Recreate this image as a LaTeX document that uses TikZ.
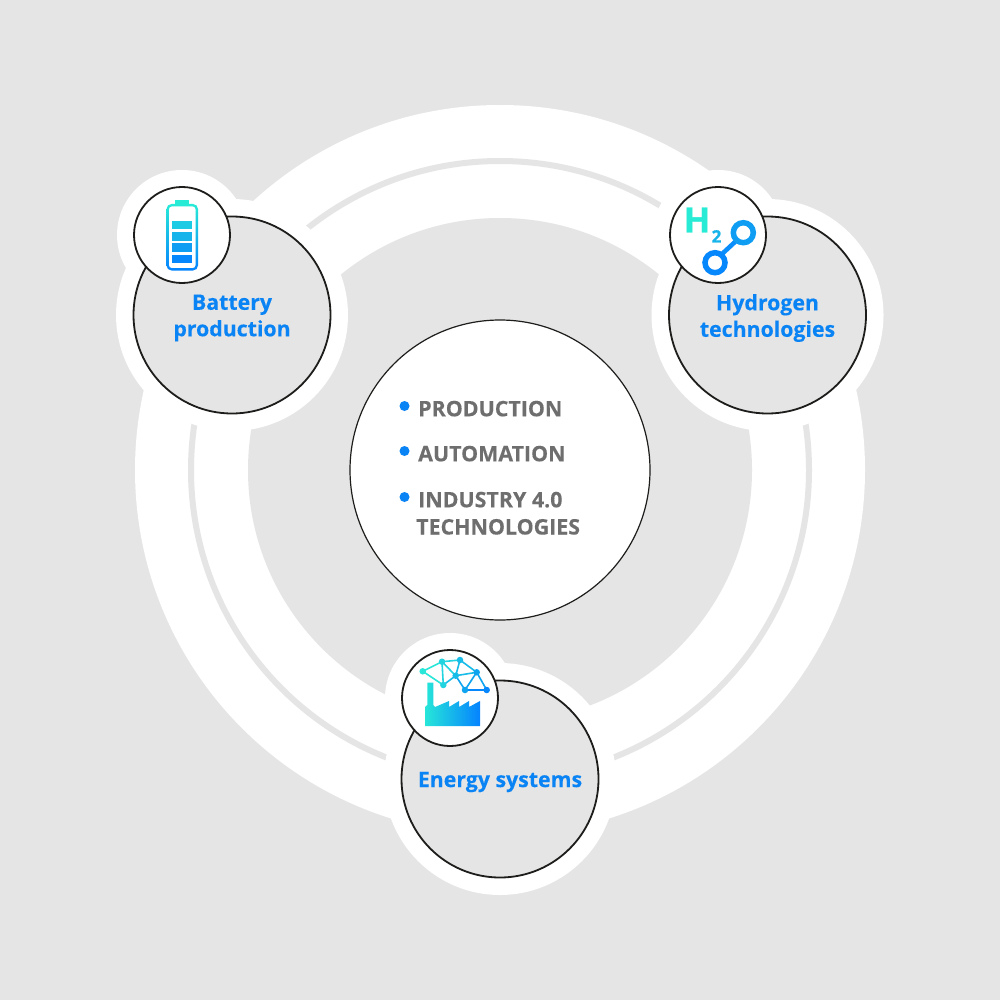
\documentclass[tikz,border=0pt]{standalone}
\usepackage{fontspec}
\setmainfont{Open Sans}
\definecolor{bg}{HTML}{E5E5E5}
\definecolor{ringgray}{HTML}{E5E5E5}
\definecolor{ink}{HTML}{1D1D1B}
\definecolor{azure}{HTML}{0A84F5}
\definecolor{slate}{HTML}{6E6E6E}
\definecolor{turq}{HTML}{28EBD6}
\definecolor{blu}{HTML}{0583FF}
\tikzset{
  halo/.style={circle,fill=white,draw=none,inner sep=0pt,minimum size=#1},
  topic/.style={circle,fill=bg,draw=ink,line width=1.8pt,inner sep=0pt,minimum size=197pt},
  topiclabel/.style={inner sep=0pt,text=azure,align=center,font=\fontsize{21.3}{26.5}\selectfont\bfseries\addfontfeature{FakeBold=0.2}},
  badge/.style={circle,fill=white,draw=ink,line width=1.8pt,inner sep=0pt,minimum size=96pt},
  item/.style={anchor=base west,inner sep=0pt,text=slate,font=\fontsize{21.4}{27}\selectfont\bfseries\addfontfeature{FakeBold=0.2}},
  dot/.style={circle,fill=#1,draw=none,inner sep=0pt,minimum size=6.5pt},
  link/.style={line width=1.6pt},
}
\begin{document}
\begin{tikzpicture}[x=1pt,y=-1pt]
\useasboundingbox (0,0) rectangle (1000,1000);
\fill[bg] (0,0) rectangle (1000,1000);
% rings
\fill[white] (500,470) circle (365);
\draw[ringgray,line width=6pt] (500,470) circle (309);
\fill[bg] (500,470) circle (252);
% halos
\node[halo=232pt] at (232,315) {};
\node[halo=130pt] at (182,235) {};
\node[halo=232pt] at (767.5,315) {};
\node[halo=130pt] at (718,235) {};
\node[halo=232pt] at (500,779) {};
\node[halo=130pt] at (450,698) {};
% centre
\node[circle,fill=white,draw=ink,line width=1.2pt,inner sep=0pt,minimum size=300pt] (core) at (500,470) {};
\fill[azure] (404.5,406) circle (5);
\fill[azure] (404.5,451) circle (5);
\fill[azure] (404.5,497) circle (5);
\node[item] (i1) at (418,416.3) {PRODUCTION};
\node[item] (i2) at (418,461.3) {AUTOMATION};
\node[item] (i3) at (418,507.3) {INDUSTRY 4.0};
\node[item] (i4) at (416,534.5) {TECHNOLOGIES};
% topics
\node[topic] (bat) at (232,315) {};
\node[topic] (hyd) at (767.5,315) {};
\node[topic] (eng) at (500,779) {};
\node[topiclabel] (batl) at (232,318) {Battery\\production};
\node[topiclabel] (hydl) at (767.5,318) {Hydrogen\\technologies};
\node[topiclabel] (engl) at (500,782) {Energy systems};
% badges
\node[badge] (bb) at (182,235) {};
\node[badge] (hb) at (718,235) {};
\node[badge] (eb) at (450,698) {};
% battery icon
\fill[turq] (175,200) rectangle (189,205.5);
\shade[top color=turq,bottom color=blu,even odd rule]
  (166.5,209) arc[start angle=180,end angle=270,radius=5] -- (193,204) arc[start angle=-90,end angle=0,radius=5] -- (198,265.5) arc[start angle=0,end angle=90,radius=5] -- (171.5,270.5) arc[start angle=90,end angle=180,radius=5] -- cycle
  (168.8,209.5) -- (168.8,265) arc[start angle=180,end angle=90,radius=3.2] -- (192.5,268.2) arc[start angle=90,end angle=0,radius=3.2] -- (195.7,209.5) arc[start angle=0,end angle=-90,radius=3.2] -- (172,206.3) arc[start angle=-90,end angle=-180,radius=3.2] -- cycle;
\definecolor{b1}{HTML}{1DCBE4}\definecolor{b2}{HTML}{16B4EA}\definecolor{b3}{HTML}{0E9DF2}\definecolor{b4}{HTML}{0787FC}
\fill[b1] (172.3,220.7) rectangle (192.3,229.3);
\fill[b2] (172.3,232) rectangle (192.3,240.7);
\fill[b3] (172.3,243.3) rectangle (192.3,252);
\fill[b4] (172.3,254.7) rectangle (192.3,263.3);
% hydrogen icon
\node[anchor=base,inner sep=0pt,text=turq,font=\fontsize{35}{35}\selectfont\bfseries\addfontfeature{FakeBold=1.2}] (hh) at (697,232.5) {H};
\node[anchor=base,inner sep=0pt,text=b2,font=\fontsize{17}{17}\selectfont\bfseries\addfontfeature{FakeBold=1}] (h2) at (716.5,242.5) {2};
\draw[blu!85!b1,line width=4.5pt] (722,254) -- (736,241);
\draw[b4,line width=5.5pt] (715,262.7) circle (10);
\draw[b3,line width=5.5pt] (743.3,232.7) circle (10);
% factory icon
\shade[left color=turq!85!b1,right color=blu]
  (425,726) -- (425,707) -- (427.3,705) -- (427.3,682.7) -- (433.3,682.7) -- (433.3,705) -- (435,707)
  -- (449,701) -- (449,707) -- (459,701) -- (459,707) -- (469,701) -- (469,707) -- (480,701) -- (480,726) -- cycle;
% network
\coordinate (na) at (422.7,671.3);
\coordinate (nb) at (442,661.7);
\coordinate (nc) at (460,660);
\coordinate (nd) at (455.7,675.7);
\coordinate (ne) at (443.3,685);
\coordinate (nf) at (476.7,672.3);
\coordinate (ng) at (465,690);
\coordinate (nh) at (486.7,690);
\definecolor{n1}{HTML}{28E6D8}\definecolor{n2}{HTML}{22D4E0}\definecolor{n3}{HTML}{18BCE8}\definecolor{n4}{HTML}{0EA4F0}\definecolor{n5}{HTML}{0787FC}
\draw[link,n1] (na) -- (nb);
\draw[link,n1] (na) -- (ne);
\draw[link,n2] (nb) -- (ne);
\draw[link,n2] (nb) -- (nc);
\draw[link,n2] (nb) -- (nd);
\draw[link,n3] (nc) -- (nd);
\draw[link,n3] (ne) -- (nd);
\draw[link,n3] (nc) -- (nf);
\draw[link,n3] (nd) -- (nf);
\draw[link,n4] (nd) -- (ng);
\draw[link,n4] (nf) -- (ng);
\draw[link,n4] (nf) -- (nh);
\draw[link,n5] (ng) -- (nh);
\node[dot=n1] at (na) {};
\node[dot=n2] at (nb) {};
\node[dot=n3] at (nc) {};
\node[dot=n3] at (nd) {};
\node[dot=n2] at (ne) {};
\node[dot=n4] at (nf) {};
\node[dot=n4] at (ng) {};
\node[dot=n5] at (nh) {};
\end{tikzpicture}
\end{document}
